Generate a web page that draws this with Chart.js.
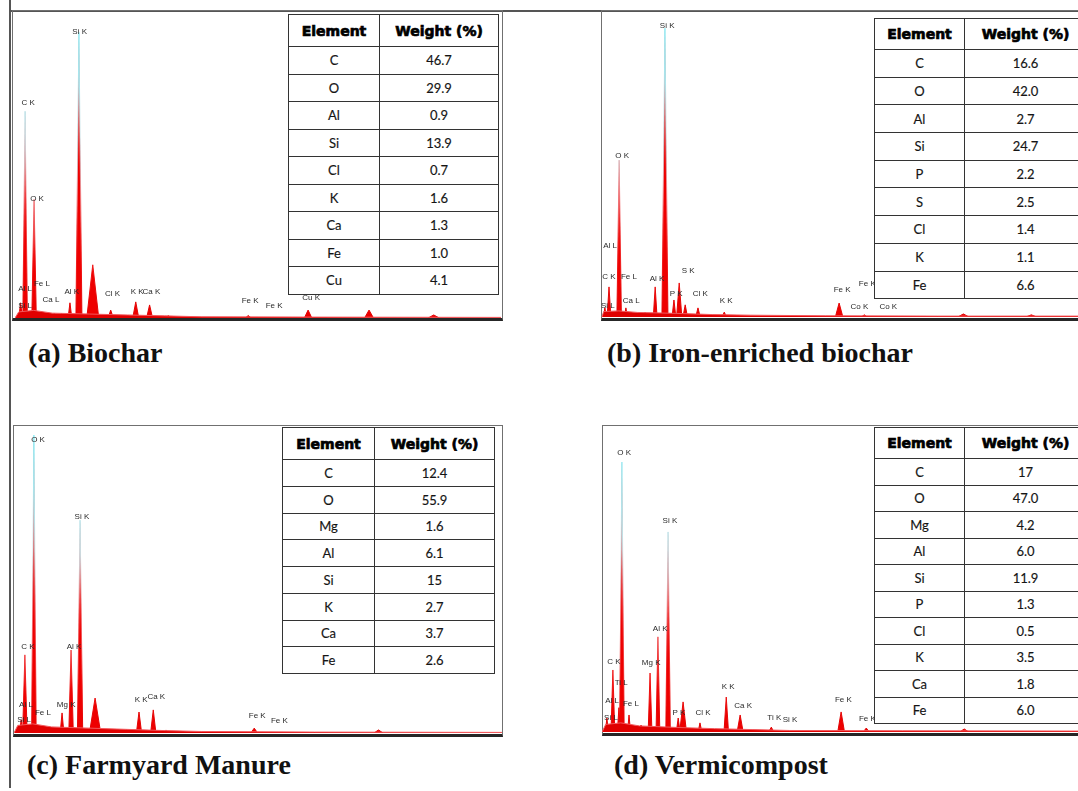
<!DOCTYPE html>
<html>
<head>
<meta charset="utf-8">
<script src="https://cdn.jsdelivr.net/npm/chart.js@4.4.0/dist/chart.umd.min.js"></script>
<style>
body{margin:0;width:1078px;height:791px;overflow:hidden;background:#fff;position:relative;}
.line{position:absolute;background:#555}
.frame{position:absolute;box-sizing:border-box;border:1.5px solid #707070;border-bottom:3px solid #262626}
canvas{position:absolute}
table{position:absolute;border-collapse:collapse;background:#fff;font-family:Lato,"Open Sans",sans-serif;table-layout:fixed}
td,th{border:1.4px solid #333;text-align:center;padding:0;font-size:13px;color:#151515}
td{-webkit-text-stroke:0.15px #151515}
th{font-family:"DejaVu Sans",sans-serif;font-weight:bold;font-size:14px;color:#000;-webkit-text-stroke:0.7px #000}
.cap{position:absolute;font-family:"Liberation Serif",serif;font-weight:bold;font-size:28px;white-space:nowrap;color:#111;line-height:32px}
</style>
</head>
<body>
<div class="line" style="left:9px;top:0;width:1.5px;height:788px"></div>
<div class="line" style="left:9px;top:10px;width:1069px;height:1.5px"></div>

<div class="frame" style="left:12px;top:10px;width:491px;height:311px"></div>
<div class="frame" style="left:601px;top:10px;width:490px;height:311px"></div>
<div class="frame" style="left:13px;top:425px;width:490px;height:312px"></div>
<div class="frame" style="left:602px;top:425px;width:490px;height:311px"></div>

<canvas id="specA" width="486" height="304" style="left:15px;top:14px"></canvas>
<canvas id="specB" width="488" height="304" style="left:600px;top:13px"></canvas>
<canvas id="specC" width="488" height="304" style="left:14px;top:429px"></canvas>
<canvas id="specD" width="488" height="304" style="left:602px;top:428px"></canvas>

<div class="cap" style="left:28px;top:337px">(a) Biochar</div>
<div class="cap" style="left:607px;top:337px">(b) Iron-enriched biochar</div>
<div class="cap" style="left:27px;top:749px">(c) Farmyard Manure</div>
<div class="cap" style="left:614px;top:749px">(d) Vermicompost</div>

<script>
// energy axis (keV) and count scale (% of full scale)
const energyMax = 13;
const countMax = 100;

// (a) Biochar
const biocharPeakE = [0.15, 0.27, 0.51, 0.72, 0.85, 1.05, 1.25, 1.47, 1.71, 2.08, 2.56, 3.23, 3.60, 4.1, 6.24, 7.84, 9.47, 11.2];
const biocharPeakH = [5, 68, 39, 2, 1.5, 1.5, 1.5, 5, 94, 17.5, 2.6, 5.3, 4.3, 0.8, 0.8, 2.6, 2.6, 1];
const biocharPeakW = [0.05, 0.06, 0.06, 0.05, 0.04, 0.04, 0.05, 0.05, 0.08, 0.16, 0.07, 0.08, 0.08, 0.06, 0.08, 0.1, 0.12, 0.15];
const biocharBaseE = [0, 0.1, 0.5, 1, 2, 3, 4, 5, 8, 13];
const biocharBaseC = [0, 2, 2.5, 1.6, 1.3, 1, 0.7, 0.4, 0.3, 0.2];
const biocharLabels = ['C K', 'O K', 'Si K', 'Al L', 'Si L', 'Fe L', 'Ca L', 'Al K', 'Cl K', 'K K', 'Ca K', 'Fe K', 'Fe K', 'Cu K'];
const biocharLabelE = [0.35, 0.59, 1.73, 0.27, 0.27, 0.72, 0.96, 1.52, 2.61, 3.27, 3.65, 6.29, 6.93, 7.92];
const biocharLabelC = [69.4, 37.8, 92.8, 8.2, 2.6, 9.9, 4.6, 7.2, 6.6, 7.2, 7.2, 4.3, 2.6, 5.3];
const biocharElements = ['C', 'O', 'Al', 'Si', 'Cl', 'K', 'Ca', 'Fe', 'Cu'];
const biocharWeights = ['46.7', '29.9', '0.9', '13.9', '0.7', '1.6', '1.3', '1.0', '4.1'];

// (b) Iron-enriched biochar
const ironPeakE = [0.13, 0.24, 0.51, 0.69, 1.2, 1.47, 1.73, 1.97, 2.11, 2.27, 2.61, 3.31, 6.37, 7.04, 9.68, 11.49];
const ironPeakH = [3, 9.9, 51.6, 3, 1.6, 9.9, 95, 5.6, 11.2, 4, 3, 1.6, 4.6, 0.7, 1, 0.7];
const ironPeakW = [0.04, 0.05, 0.06, 0.04, 0.05, 0.05, 0.08, 0.05, 0.07, 0.06, 0.06, 0.06, 0.1, 0.08, 0.15, 0.15];
const ironBaseE = [0.05, 0.1, 0.5, 1, 2, 3, 4, 6, 9, 13];
const ironBaseC = [0, 1.8, 2, 1.5, 1.2, 0.8, 0.6, 0.4, 0.3, 0.3];
const ironLabels = ['Si K', 'O K', 'Al L', 'C K', 'Fe L', 'Si L', 'Ca L', 'Al K', 'S K', 'P K', 'Cl K', 'K K', 'Fe K', 'Fe K', 'Co K', 'Co K'];
const ironLabelE = [1.79, 0.59, 0.27, 0.24, 0.77, 0.21, 0.83, 1.52, 2.35, 2.03, 2.67, 3.36, 6.45, 7.12, 6.91, 7.68];
const ironLabelC = [94.4, 51.6, 22, 11.8, 11.8, 2.3, 3.9, 11.2, 13.8, 6.3, 6.3, 3.9, 7.6, 9.5, 2, 2];
const ironElements = ['C', 'O', 'Al', 'Si', 'P', 'S', 'Cl', 'K', 'Fe'];
const ironWeights = ['16.6', '42.0', '2.7', '24.7', '2.2', '2.5', '1.4', '1.1', '6.6'];

// (c) Farmyard Manure
const manurePeakE = [0.19, 0.29, 0.53, 0.75, 1.28, 1.52, 1.76, 2.16, 2.65, 3.33, 3.71, 4.05, 6.4, 9.71];
const manurePeakH = [4.3, 25.7, 98, 2, 6.6, 27.3, 70, 11.5, 1, 6.9, 7.6, 1, 1.6, 1];
const manurePeakW = [0.04, 0.06, 0.06, 0.04, 0.05, 0.06, 0.07, 0.15, 0.05, 0.07, 0.07, 0.05, 0.09, 0.12];
const manureBaseE = [0, 0.1, 0.5, 1, 2, 3, 4, 5, 8, 13];
const manureBaseC = [0, 2.5, 3, 2, 1.6, 1.2, 0.8, 0.5, 0.3, 0.2];
const manureLabels = ['O K', 'Si K', 'C K', 'Al K', 'Al L', 'Si L', 'Fe L', 'Mg K', 'K K', 'Ca K', 'Fe K', 'Fe K'];
const manureLabelE = [0.64, 1.81, 0.37, 1.6, 0.32, 0.27, 0.77, 1.39, 3.39, 3.79, 6.48, 7.07];
const manureLabelC = [95, 69.7, 27, 27, 7.9, 3, 5.3, 7.9, 9.5, 10.5, 4.3, 2.6];
const manureElements = ['C', 'O', 'Mg', 'Al', 'Si', 'K', 'Ca', 'Fe'];
const manureWeights = ['12.4', '55.9', '1.6', '6.1', '15', '2.7', '3.7', '2.6'];

// (d) Vermicompost
const vermiPeakE = [0.13, 0.29, 0.45, 0.53, 0.72, 1.04, 1.28, 1.49, 1.76, 2.03, 2.16, 2.61, 3.31, 3.68, 4.51, 6.37, 7.04, 9.65];
const vermiPeakH = [4.6, 20.4, 8, 88.8, 5.6, 2.3, 19.4, 31.3, 65.8, 4.6, 9.9, 3, 11.5, 5.6, 1.6, 6.6, 1.3, 1];
const vermiPeakW = [0.04, 0.05, 0.04, 0.06, 0.04, 0.04, 0.05, 0.05, 0.06, 0.05, 0.09, 0.05, 0.06, 0.08, 0.07, 0.09, 0.08, 0.12];
const vermiBaseE = [0, 0.1, 0.5, 1, 2, 3, 4, 5, 8, 13];
const vermiBaseC = [0, 2.5, 3, 2, 1.5, 1.1, 0.8, 0.5, 0.4, 0.3];
const vermiLabels = ['O K', 'Si K', 'Al K', 'Mg K', 'C K', 'Ti L', 'Al L', 'Fe L', 'Si L', 'P K', 'Cl K', 'K K', 'Ca K', 'Ti K', 'Si K', 'Fe K', 'Fe K'];
const vermiLabelE = [0.59, 1.81, 1.55, 1.31, 0.32, 0.51, 0.27, 0.77, 0.24, 2.05, 2.69, 3.36, 3.76, 4.59, 5.01, 6.43, 7.07];
const vermiLabelC = [90.5, 68, 32.6, 21.4, 21.7, 14.8, 8.9, 7.9, 3.3, 4.9, 4.9, 13.5, 7.2, 3.3, 2.6, 9.2, 3];
const vermiElements = ['C', 'O', 'Mg', 'Al', 'Si', 'P', 'Cl', 'K', 'Ca', 'Fe'];
const vermiWeights = ['17', '47.0', '4.2', '6.0', '11.9', '1.3', '0.5', '3.5', '1.8', '6.0'];

// peak outline fades from cyan at the top to red at the base
function peakEdge(context) {
  const chart = context.chart;
  const area = chart.chartArea;
  if (!area) return '#e00000';
  const g = chart.ctx.createLinearGradient(0, area.top, 0, area.bottom);
  g.addColorStop(0, '#86ecf6');
  g.addColorStop(0.4, '#c9dfe4');
  g.addColorStop(0.6, '#f07c80');
  g.addColorStop(0.85, '#f01010');
  g.addColorStop(1, '#e00000');
  return g;
}

const peakLabels = {
  id: 'peakLabels',
  afterDatasetsDraw(chart, args, opts) {
    const c = chart.ctx;
    c.save();
    c.font = '8px "Liberation Sans", Arial, sans-serif';
    c.fillStyle = '#2a2a2a';
    c.textAlign = 'center';
    c.textBaseline = 'bottom';
    opts.text.forEach((t, i) => {
      const x = chart.scales.x.getPixelForValue(opts.energy[i]);
      const y = chart.scales.y.getPixelForValue(opts.count[i]);
      c.fillText(t, x, y);
    });
    c.restore();
  }
};

function makeSpectrum(id, peakE, peakH, peakW, baseE, baseC, labels, labelE, labelC) {
  const datasets = [];
  datasets.push({
    data: baseE.map((e, i) => ({x: e, y: baseC[i]})),
    showLine: true, fill: 'origin', pointRadius: 0,
    borderColor: '#f2585c', borderWidth: 1, backgroundColor: '#e00000'
  });
  peakE.forEach((e, i) => {
    datasets.push({
      data: [{x: e - peakW[i], y: 0}, {x: e, y: peakH[i]}, {x: e + peakW[i], y: 0}],
      showLine: true, fill: 'origin', pointRadius: 0,
      borderColor: peakEdge, borderWidth: 1, backgroundColor: '#ee0000'
    });
  });
  new Chart(document.getElementById(id), {
    type: 'scatter',
    data: {datasets: datasets},
    options: {
      responsive: false,
      animation: false,
      events: [],
      layout: {padding: 0},
      scales: {
        x: {type: 'linear', min: 0, max: energyMax, display: false},
        y: {min: 0, max: countMax, display: false}
      },
      plugins: {
        legend: {display: false},
        tooltip: {enabled: false},
        peakLabels: {text: labels, energy: labelE, count: labelC}
      }
    },
    plugins: [peakLabels]
  });
}

function makeTable(elements, weights, left, top, col1, col2, headH, rowH) {
  const t = document.createElement('table');
  t.style.left = left + 'px';
  t.style.top = top + 'px';
  t.style.width = (col1 + col2) + 'px';
  let html = '<colgroup><col style="width:' + col1 + 'px"><col style="width:' + col2 + 'px"></colgroup>';
  html += '<tr style="height:' + headH + 'px"><th>Element</th><th>Weight (%)</th></tr>';
  elements.forEach((el, i) => {
    html += '<tr style="height:' + rowH + 'px"><td>' + el + '</td><td>' + weights[i] + '</td></tr>';
  });
  t.innerHTML = html;
  document.body.appendChild(t);
}

makeSpectrum('specA', biocharPeakE, biocharPeakH, biocharPeakW, biocharBaseE, biocharBaseC, biocharLabels, biocharLabelE, biocharLabelC);
makeSpectrum('specB', ironPeakE, ironPeakH, ironPeakW, ironBaseE, ironBaseC, ironLabels, ironLabelE, ironLabelC);
makeSpectrum('specC', manurePeakE, manurePeakH, manurePeakW, manureBaseE, manureBaseC, manureLabels, manureLabelE, manureLabelC);
makeSpectrum('specD', vermiPeakE, vermiPeakH, vermiPeakW, vermiBaseE, vermiBaseC, vermiLabels, vermiLabelE, vermiLabelC);

makeTable(biocharElements, biocharWeights, 288, 14, 91, 119, 32, 27.5);
makeTable(ironElements, ironWeights, 874, 18, 90, 122, 31, 27.7);
makeTable(manureElements, manureWeights, 282, 427, 92, 120, 32, 26.75);
makeTable(vermiElements, vermiWeights, 874, 427, 90, 122, 31, 26.5);
</script>
</body>
</html>
